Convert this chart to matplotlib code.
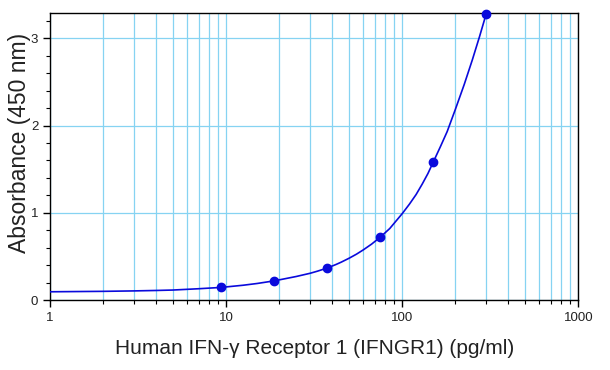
import matplotlib
matplotlib.use("Agg")
import matplotlib.pyplot as plt
from matplotlib.ticker import FixedLocator, NullFormatter, MultipleLocator

plt.rcParams["font.family"] = ["Liberation Sans", "DejaVu Sans"]

# standards (pg/ml) and measured absorbance
conc = [9.375, 18.75, 37.5, 75, 150, 300]
absorb = [0.15, 0.22, 0.367, 0.72, 1.58, 3.28]

# fitted curve
curve_x = [1, 1.5, 2, 3, 4, 5, 7, 9.375, 12.5, 15, 18.75, 25, 30, 33, 37.5,
           42, 45, 50, 55, 60, 67, 75, 85, 100, 110, 120, 130, 140, 150, 165,
           180, 200, 225, 250, 275, 300]
curve_y = [0.095, 0.098, 0.10, 0.105, 0.11, 0.115, 0.13, 0.145, 0.17, 0.19,
           0.22, 0.27, 0.307, 0.331, 0.367, 0.407, 0.434, 0.48, 0.526, 0.574,
           0.641, 0.72, 0.82, 0.99, 1.10, 1.21, 1.33, 1.45, 1.58, 1.76, 1.93,
           2.18, 2.47, 2.75, 3.02, 3.28]

x_major = [1, 10, 100, 1000]
x_labels = ["1", "10", "100", "1000"]

blue = "#0a0adc"
grid = "#86d3f2"

fig = plt.figure(figsize=(6.1, 3.7), dpi=100)
ax = fig.add_axes([0.082, 0.189, 0.866, 0.776])

ax.set_xscale("log")
ax.set_xlim(1, 1000)
ax.set_ylim(0, 3.29)

minors = [m * d for d in (1, 10, 100) for m in range(2, 10)]
ax.xaxis.set_major_locator(FixedLocator(x_major))
ax.set_xticklabels(x_labels)
ax.xaxis.set_minor_locator(FixedLocator(minors))
ax.xaxis.set_minor_formatter(NullFormatter())
ax.yaxis.set_major_locator(MultipleLocator(1))
ax.yaxis.set_minor_locator(MultipleLocator(0.2))

ax.grid(True, which="both", axis="x", color=grid, linewidth=0.9)
ax.grid(True, which="major", axis="y", color=grid, linewidth=0.9)
ax.set_axisbelow(True)

ax.tick_params(which="major", length=5, width=1, labelsize=9.5, direction="out",
               labelcolor="#222222")
ax.tick_params(which="minor", length=3, width=0.8, direction="out")
for s in ax.spines.values():
    s.set_linewidth(1)

ax.plot(curve_x, curve_y, color=blue, linewidth=1.2, zorder=3)
ax.plot(conc, absorb, "o", color=blue, markersize=6, zorder=4, clip_on=False)

ax.set_xlabel("Human IFN-\u03b3 Receptor 1 (IFNGR1) (pg/ml)", fontsize=15,
              color="#222222", labelpad=11)
ax.set_ylabel("Absorbance (450 nm)", fontsize=16.5, color="#222222")
ax.yaxis.set_label_coords(-0.036, 0.547)

fig.savefig("out.png", dpi=100)
